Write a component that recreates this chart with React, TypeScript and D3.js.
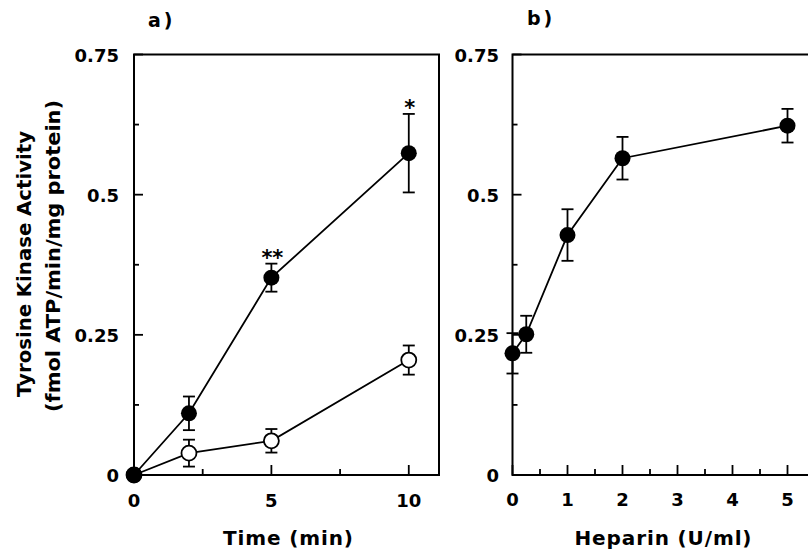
import React from "react";
import * as d3 from "d3";

// Panel a: time course
const timeMin = [0, 2, 5, 10];
const heparinMean = [0, 0.11, 0.352, 0.574];
const heparinErr = [0, 0.03, 0.025, 0.07];
const controlMean = [0, 0.039, 0.061, 0.205];
const controlErr = [0, 0.024, 0.021, 0.026];
const signif = ["", "", "**", "*"];

// Panel b: dose response
const heparinDose = [0, 0.25, 1, 2, 5];
const doseMean = [0.217, 0.251, 0.428, 0.565, 0.623];
const doseErr = [0.036, 0.033, 0.046, 0.038, 0.03];

const yTicks = [0, 0.25, 0.5, 0.75];
const yTickLabels = ["0", "0.25", "0.5", "0.75"];
const yMinor = [0.125, 0.375, 0.625];
const xTicksA = [0, 5, 10];
const xMinorA = [2.5, 7.5];
const xTicksB = [0, 1, 2, 3, 4, 5];
const xMinorB = [0.5, 1.5, 2.5, 3.5, 4.5, 5.5];

const FONT = "'DejaVu Sans', 'Liberation Sans', Arial, sans-serif";

export default function App() {
  const y = d3.scaleLinear().domain([0, 0.75]).range([475, 54.5]);
  const xA = d3.scaleLinear().domain([0, 11.1]).range([134, 439]);
  const xB = d3.scaleLinear().domain([0, 6]).range([512.5, 842.5]);

  const lineA = (vals: number[]) =>
    d3.line<number>().x((_, i) => xA(timeMin[i])).y((d) => y(d))(vals) || "";
  const lineB =
    d3.line<number>().x((_, i) => xB(heparinDose[i])).y((d) => y(d))(doseMean) || "";

  const errBar = (cx: number, m: number, e: number, key: string) => {
    if (e <= 0) return null;
    const t = y(m + e);
    const b = y(m - e);
    return (
      <g key={key} stroke="#000" strokeWidth={1.8}>
        <line x1={cx} x2={cx} y1={t} y2={b} />
        <line x1={cx - 6} x2={cx + 6} y1={t} y2={t} />
        <line x1={cx - 6} x2={cx + 6} y1={b} y2={b} />
      </g>
    );
  };

  const tickStyle = { fontFamily: FONT, fontWeight: 700, fontSize: 18 };

  const yAxis = (x0: number, labelRight: number) => (
    <g>
      {yTicks.map((t, i) => (
        <g key={"yt" + i}>
          <line x1={x0} x2={x0 + 9} y1={y(t)} y2={y(t)} stroke="#000" strokeWidth={1.8} />
          <text x={labelRight} y={y(t) + 7} textAnchor="end" style={tickStyle}>
            {yTickLabels[i]}
          </text>
        </g>
      ))}
      {yMinor.map((t, i) => (
        <line key={"ym" + i} x1={x0} x2={x0 + 5} y1={y(t)} y2={y(t)} stroke="#000" strokeWidth={1.8} />
      ))}
    </g>
  );

  return (
    <svg
      width={808}
      height={552}
      style={{ position: "absolute", left: 0, top: 0, background: "#fff" }}
    >
      <rect x={0} y={0} width={808} height={552} fill="#fff" />

      {/* Y axis title */}
      <text
        transform={`translate(31,264) rotate(-90)`}
        textAnchor="middle"
        textLength={266}
        lengthAdjust="spacingAndGlyphs"
        style={{ fontFamily: FONT, fontWeight: 700, fontSize: 20 }}
      >
        Tyrosine Kinase Activity
      </text>
      <text
        transform={`translate(60,256) rotate(-90)`}
        textAnchor="middle"
        textLength={312}
        lengthAdjust="spacingAndGlyphs"
        style={{ fontFamily: FONT, fontWeight: 700, fontSize: 20 }}
      >
        (fmol ATP/min/mg protein)
      </text>

      {/* Panel a */}
      <text x={148} y={27} style={{ fontFamily: FONT, fontWeight: 700, fontSize: 19, letterSpacing: 3 }}>
        a)
      </text>
      <rect x={xA(0)} y={y(0.75)} width={xA(11.1) - xA(0)} height={y(0) - y(0.75)} fill="none" stroke="#000" strokeWidth={2} />
      {yAxis(xA(0), 119)}
      {xTicksA.map((t) => (
        <g key={"xa" + t}>
          <line x1={xA(t)} x2={xA(t)} y1={y(0)} y2={y(0) - 10} stroke="#000" strokeWidth={1.8} />
          <text x={xA(t)} y={507} textAnchor="middle" style={tickStyle}>
            {String(t)}
          </text>
        </g>
      ))}
      {xMinorA.map((t) => (
        <line key={"xam" + t} x1={xA(t)} x2={xA(t)} y1={y(0)} y2={y(0) - 6} stroke="#000" strokeWidth={1.8} />
      ))}
      <text x={288} y={545} textAnchor="middle" textLength={130} lengthAdjust="spacing"
        style={{ fontFamily: FONT, fontWeight: 700, fontSize: 20 }}>
        Time (min)
      </text>

      <path d={lineA(heparinMean)} fill="none" stroke="#000" strokeWidth={1.8} />
      <path d={lineA(controlMean)} fill="none" stroke="#000" strokeWidth={1.8} />
      {timeMin.map((t, i) => errBar(xA(t), controlMean[i], controlErr[i], "ce" + i))}
      {timeMin.map((t, i) => errBar(xA(t), heparinMean[i], heparinErr[i], "he" + i))}
      {timeMin.map((t, i) => (
        <circle key={"cc" + i} cx={xA(t)} cy={y(controlMean[i])} r={7.5} fill="#fff" stroke="#000" strokeWidth={1.8} />
      ))}
      {timeMin.map((t, i) => (
        <circle key={"hc" + i} cx={xA(t)} cy={y(heparinMean[i])} r={8} fill="#000" />
      ))}
      {timeMin.map((t, i) =>
        signif[i] ? (
          <text key={"s" + i} x={xA(t) + 1} y={y(heparinMean[i] + heparinErr[i]) + 1} textAnchor="middle"
            style={{ fontFamily: FONT, fontWeight: 700, fontSize: 21 }}>
            {signif[i]}
          </text>
        ) : null
      )}

      {/* Panel b */}
      <text x={527} y={25} style={{ fontFamily: FONT, fontWeight: 700, fontSize: 19, letterSpacing: 3 }}>
        b)
      </text>
      <rect x={xB(0)} y={y(0.75)} width={xB(6) - xB(0)} height={y(0) - y(0.75)} fill="none" stroke="#000" strokeWidth={2} />
      {yAxis(xB(0), 499)}
      {xTicksB.map((t) => (
        <g key={"xb" + t}>
          <line x1={xB(t)} x2={xB(t)} y1={y(0)} y2={y(0) - 10} stroke="#000" strokeWidth={1.8} />
          <text x={xB(t)} y={506} textAnchor="middle" style={tickStyle}>
            {String(t)}
          </text>
        </g>
      ))}
      {xMinorB.map((t) => (
        <line key={"xbm" + t} x1={xB(t)} x2={xB(t)} y1={y(0)} y2={y(0) - 6} stroke="#000" strokeWidth={1.8} />
      ))}
      <text x={663} y={545} textAnchor="middle" textLength={177} lengthAdjust="spacing"
        style={{ fontFamily: FONT, fontWeight: 700, fontSize: 20 }}>
        Heparin (U/ml)
      </text>

      <path d={lineB} fill="none" stroke="#000" strokeWidth={1.8} />
      {heparinDose.map((d, i) => errBar(xB(d), doseMean[i], doseErr[i], "de" + i))}
      {heparinDose.map((d, i) => (
        <circle key={"dc" + i} cx={xB(d)} cy={y(doseMean[i])} r={8} fill="#000" />
      ))}
    </svg>
  );
}
